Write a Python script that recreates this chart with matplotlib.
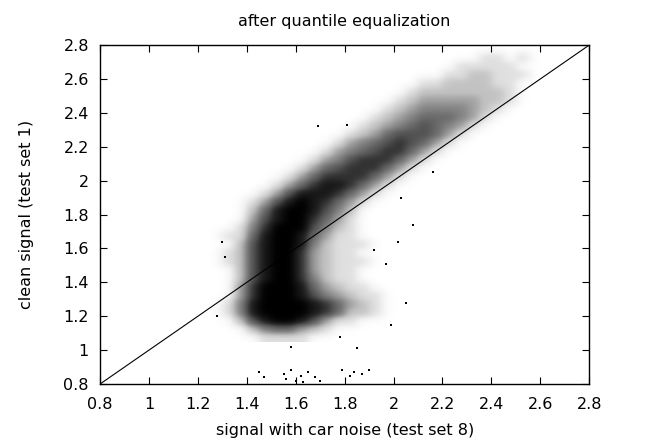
import numpy as np
import matplotlib
matplotlib.use("Agg")
import matplotlib.pyplot as plt
from matplotlib.colors import PowerNorm

plt.rcParams['font.family'] = ['DejaVu Sans']

# point density of the cloud in 0.05 x 0.05 cells
# (0 = empty ... 9 = solid black), top row first
density_rows = [
    "000000000000000000000000000",  # 2.75
    "000000000000000000000011010",  # 2.70
    "000000000000000000001111100",  # 2.65
    "000000000000000000011221110",  # 2.60
    "000000000000000001122221100",  # 2.55
    "000000000000000012222222100",  # 2.50
    "000000000000000123333322100",  # 2.45
    "000000000000001234444321000",  # 2.40
    "000000000000012345554310000",  # 2.35
    "000000000000123456543100000",  # 2.30
    "000000000001235666531000000",  # 2.25
    "000000000013456765310000000",  # 2.20
    "000000000134567753100000000",  # 2.15
    "000000001346777531000000000",  # 2.10
    "000000013567775310000000000",  # 2.05
    "000000135777753100000000000",  # 2.00
    "000001357887531000000000000",  # 1.95
    "000013688875310000000000000",  # 1.90
    "000136898753100000000000000",  # 1.85
    "000258998642000000000000000",  # 1.80
    "000368997531000000000000000",  # 1.75
    "001479996421000000000000000",  # 1.70
    "011589985311000000000000000",  # 1.65
    "002689984211100000000000000",  # 1.60
    "012689973211000000000000000",  # 1.55
    "012689973211100000000000000",  # 1.50
    "002689973211000000000000000",  # 1.45
    "002689974211000000000000000",  # 1.40
    "003799985321100000000000000",  # 1.35
    "003799986432110000000000000",  # 1.30
    "014899998753210000000000000",  # 1.25
    "014899998752210000000000000",  # 1.20
    "002689986311000000000000000",  # 1.15
    "000245532100000000000000000",  # 1.10
    "000011110000000000000000000",  # 1.05
]
grid_x = (1.25, 2.60)
grid_y = (1.05, 2.80)

# isolated points outside the dense cloud
outlier_x = [1.45, 1.47, 1.55, 1.56, 1.58, 1.60, 1.62, 1.63, 1.65, 1.68, 1.70,
             1.79, 1.82, 1.84, 1.87, 1.90, 1.30, 1.31, 1.28, 1.85, 1.58, 1.78,
             2.05, 1.99, 2.02, 2.08, 2.03, 2.16, 1.69, 1.81, 1.92, 1.97]
outlier_y = [0.87, 0.84, 0.86, 0.83, 0.88, 0.82, 0.85, 0.81, 0.87, 0.84, 0.82,
             0.88, 0.85, 0.87, 0.86, 0.88, 1.64, 1.55, 1.20, 1.01, 1.02, 1.08,
             1.28, 1.15, 1.64, 1.74, 1.90, 2.05, 2.32, 2.33, 1.59, 1.51]

ticks = [0.8, 1, 1.2, 1.4, 1.6, 1.8, 2, 2.2, 2.4, 2.6, 2.8]

density = np.array([[int(c) for c in row] for row in density_rows])

fig = plt.figure(figsize=(6.54, 4.46), dpi=100)
ax = fig.add_axes([0.153, 0.139, 0.748, 0.760])

ax.imshow(density, extent=(grid_x[0], grid_x[1], grid_y[0], grid_y[1]),
          cmap='Greys', norm=PowerNorm(gamma=0.7, vmin=0, vmax=9),
          interpolation='gaussian', aspect='auto', origin='upper', zorder=1)
ax.scatter(outlier_x, outlier_y, s=1.0, marker='s', c='black',
           linewidths=0, zorder=2)
ax.plot([0.8, 2.8], [0.8, 2.8], color='black', lw=0.8, zorder=3)

ax.set_xlim(0.8, 2.8)
ax.set_ylim(0.8, 2.8)
ax.set_xticks(ticks)
ax.set_yticks(ticks)
ax.set_xticklabels([f"{t:g}" for t in ticks])
ax.set_yticklabels([f"{t:g}" for t in ticks])
ax.tick_params(direction='in', top=True, right=True, length=5, width=0.8,
               labelsize=11.5)
ax.tick_params(axis='x', pad=9)
ax.tick_params(axis='y', pad=8)
for s in ax.spines.values():
    s.set_linewidth(1.0)

ax.set_xlabel('signal with car noise (test set 8)', fontsize=11.5, labelpad=8)
ax.set_ylabel('clean signal (test set 1)', fontsize=11.5, labelpad=21)
ax.set_title('after quantile equalization', fontsize=11.5, pad=14)

fig.savefig('out.png', dpi=100)
